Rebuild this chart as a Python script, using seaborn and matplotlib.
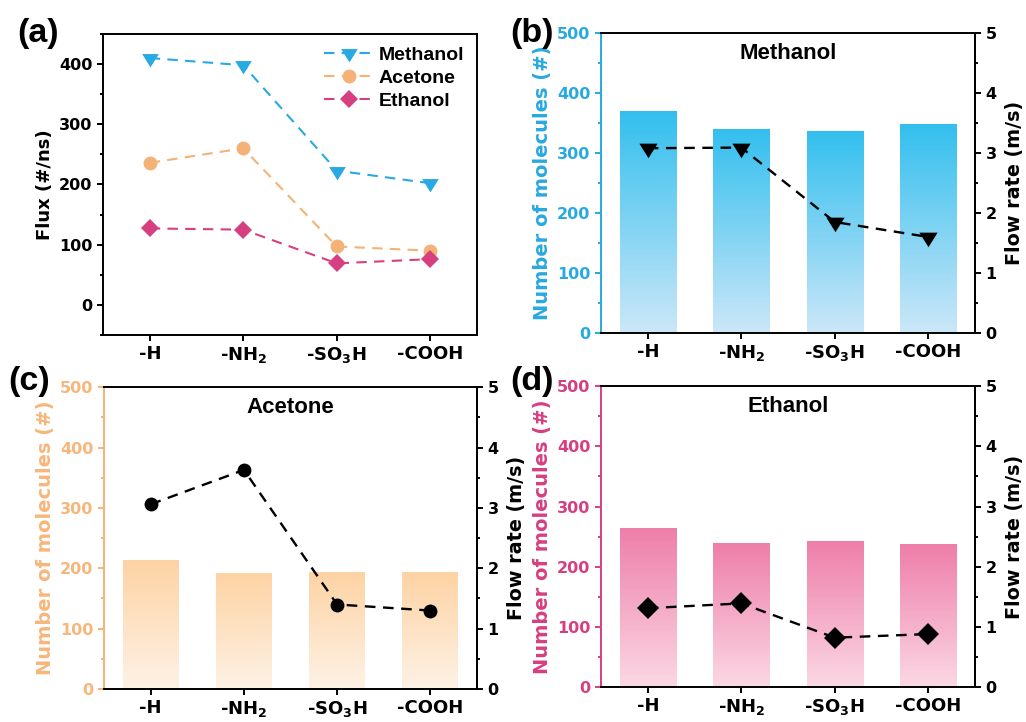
import numpy as np
import pandas as pd
import matplotlib
matplotlib.use("Agg")
import matplotlib.pyplot as plt
from matplotlib.colors import LinearSegmentedColormap
from matplotlib.path import Path
from matplotlib.ticker import MultipleLocator
import seaborn as sns

# ---- data ----
groups = ["-H", "-NH$_2$", "-SO$_3$H", "-COOH"]

flux_methanol = [410, 398, 223, 202]
flux_acetone = [236, 260, 97, 90]
flux_ethanol = [127, 125, 69, 76]

count_methanol = [370, 340, 336, 348]
count_acetone = [213, 192, 194, 194]
count_ethanol = [265, 240, 243, 237]

flow_methanol = [3.08, 3.09, 1.85, 1.60]
flow_acetone = [3.06, 3.63, 1.40, 1.30]
flow_ethanol = [1.31, 1.39, 0.82, 0.88]

# ---- style ----
sns.set_style("ticks")
plt.rcParams["font.family"] = ["Liberation Sans", "DejaVu Sans"]
plt.rcParams["font.weight"] = "bold"
plt.rcParams["axes.labelweight"] = "bold"
plt.rcParams["text.color"] = "black"
plt.rcParams["axes.labelcolor"] = "black"
plt.rcParams["xtick.color"] = "black"
plt.rcParams["ytick.color"] = "black"
plt.rcParams["axes.edgecolor"] = "black"
plt.rcParams["mathtext.fontset"] = "custom"
plt.rcParams["mathtext.rm"] = "DejaVu Sans:bold"
plt.rcParams["mathtext.bf"] = "DejaVu Sans:bold"
plt.rcParams["mathtext.default"] = "bf"

BLUE = "#29A9E1"
ORANGE = "#F5B277"
PINK = "#D63F80"

AXIS_FONT = "DejaVu Sans"
XTICK_FS = 13
YTICK_FS = 11.5
SPINE_W = 1.4

# downward triangle centred on its centroid
TRI_DOWN = Path([(-1, 0.5333), (1, 0.5333), (0, -1.0667), (-1, 0.5333)],
                [Path.MOVETO, Path.LINETO, Path.LINETO, Path.CLOSEPOLY])

fig = plt.figure(figsize=(10.26, 7.22), dpi=100)
ax_a = fig.add_axes([0.1004, 0.536, 0.3645, 0.417])
ax_b = fig.add_axes([0.5858, 0.5388, 0.3645, 0.4155])
ax_c = fig.add_axes([0.1014, 0.0457, 0.3635, 0.418])
ax_d = fig.add_axes([0.5858, 0.0485, 0.3645, 0.4165])

x_idx = np.arange(len(groups))


def style_axis(ax, yticks, left_color="black"):
    for side in ["top", "bottom", "left", "right"]:
        ax.spines[side].set_visible(True)
        ax.spines[side].set_linewidth(SPINE_W)
        ax.spines[side].set_color("black")
    ax.spines["left"].set_color(left_color)
    ax.set_xticks(x_idx, groups, fontsize=XTICK_FS, fontweight="bold",
                  fontfamily=AXIS_FONT, color="black")
    ax.set_yticks(yticks, [f"{v:g}" for v in yticks], fontsize=YTICK_FS,
                  fontweight="bold", color=left_color, fontfamily=AXIS_FONT)
    ax.tick_params(axis="both", which="major", direction="out", length=4.5,
                   width=SPINE_W)
    ax.tick_params(axis="x", which="major", pad=3, color="black")
    ax.tick_params(axis="y", which="major", color=left_color, pad=3)
    ax.tick_params(axis="y", which="minor", direction="out", length=2.5,
                   width=SPINE_W, color=left_color)


# ---- (a) flux line chart ----
series = [
    ("Methanol", flux_methanol, BLUE, TRI_DOWN, 12.8),
    ("Acetone", flux_acetone, ORANGE, "o", 10),
    ("Ethanol", flux_ethanol, PINK, "D", 9),
]
for name, vals, col, mk, ms in series:
    sns.lineplot(x=x_idx, y=vals, ax=ax_a, color=col, marker=mk, markersize=ms,
                 markeredgecolor=col, markeredgewidth=0, linewidth=1.5,
                 linestyle=(0, (5, 3.5)), label=name)
ax_a.set_xlim(-0.5, 3.5)
ax_a.yaxis.set_minor_locator(MultipleLocator(50))
style_axis(ax_a, [0, 100, 200, 300, 400])
ax_a.set_ylim(-50, 450)
ax_a.set_ylabel("Flux (#/ns)", fontsize=13, labelpad=4, fontfamily=AXIS_FONT,
                color="black")
ax_a.legend(loc="upper right", frameon=False, handlelength=2.5,
            handletextpad=0.3, labelspacing=0.28, borderaxespad=0.25,
            prop={"weight": "bold", "size": 14}, labelcolor="black")


# ---- (b)-(d) bars with flow rate ----
def bar_panel(ax, counts, flow, color, top_col, bot_col, marker, ms, title):
    df = pd.DataFrame({"group": groups, "count": counts})
    sns.barplot(data=df, x="group", y="count", ax=ax, color=top_col,
                width=0.6, saturation=1, order=groups)
    cmap = LinearSegmentedColormap.from_list("grad", [bot_col, top_col])
    grad = np.linspace(0, 1, 256).reshape(-1, 1)
    for p in ax.patches:
        x0, y0 = p.get_x(), p.get_y()
        w, h = p.get_width(), p.get_height()
        im = ax.imshow(grad, extent=[x0, x0 + w, y0, y0 + h], origin="lower",
                       cmap=cmap, aspect="auto", zorder=p.get_zorder(),
                       interpolation="bilinear")
        im.set_clip_path(p)
        p.set_edgecolor("none")
    ax.set_xlim(-0.5, 3.5)
    ax.yaxis.set_minor_locator(MultipleLocator(50))
    style_axis(ax, [0, 100, 200, 300, 400, 500], left_color=color)
    ax.set_ylim(0, 500)
    ax.set_xlabel("")
    ax.set_ylabel("Number of molecules (#)", fontsize=14, color=color,
                  labelpad=4, fontfamily=AXIS_FONT)
    ax.text(0.5, 0.932, title, transform=ax.transAxes, ha="center", va="center",
            fontsize=16, fontweight="bold", color="black")

    ax2 = ax.twinx()
    sns.lineplot(x=x_idx, y=flow, ax=ax2, color="black", marker=marker,
                 markersize=ms, markeredgecolor="black", markeredgewidth=0,
                 linewidth=1.7, linestyle=(0, (4.5, 3.2)))
    ax2.set_xlim(-0.5, 3.5)
    ax2.set_yticks([0, 1, 2, 3, 4, 5], ["0", "1", "2", "3", "4", "5"],
                   fontsize=YTICK_FS, fontweight="bold", fontfamily=AXIS_FONT,
                   color="black")
    ax2.set_ylim(0, 5)
    ax2.yaxis.set_minor_locator(MultipleLocator(0.5))
    for side in ["top", "bottom", "left", "right"]:
        ax2.spines[side].set_visible(False)
    ax2.spines["right"].set_visible(True)
    ax2.spines["right"].set_linewidth(SPINE_W)
    ax2.spines["right"].set_color("black")
    ax2.tick_params(axis="y", which="major", direction="out", length=4.5,
                    width=SPINE_W, pad=3, color="black")
    ax2.tick_params(axis="y", which="minor", direction="out", length=2.5,
                    width=SPINE_W, color="black")
    ax2.set_ylabel("Flow rate (m/s)", fontsize=13.8, labelpad=6,
                   fontfamily=AXIS_FONT, color="black")
    return ax2


bar_panel(ax_b, count_methanol, flow_methanol, BLUE, "#33BFEE", "#CCE7F8",
          TRI_DOWN, 14, "Methanol")
bar_panel(ax_c, count_acetone, flow_acetone, ORANGE, "#FDD3A4", "#FEF2E6",
          "o", 10, "Acetone")
bar_panel(ax_d, count_ethanol, flow_ethanol, PINK, "#EE7EA9", "#FBD8E4",
          "D", 11, "Ethanol")
ax_c.yaxis.label.set_color("#F7B67A")
for t in ax_c.get_yticklabels():
    t.set_color("#F7B67A")

# ---- panel letters ----
for lbl, (fx, fy) in zip(["(a)", "(b)", "(c)", "(d)"],
                         [(0.017, 0.953), (0.497, 0.953), (0.008, 0.472), (0.497, 0.472)]):
    fig.text(fx, fy, lbl, fontsize=24.5, fontweight="bold", ha="left",
             va="center", color="black")

fig.savefig("out.png", dpi=100)
